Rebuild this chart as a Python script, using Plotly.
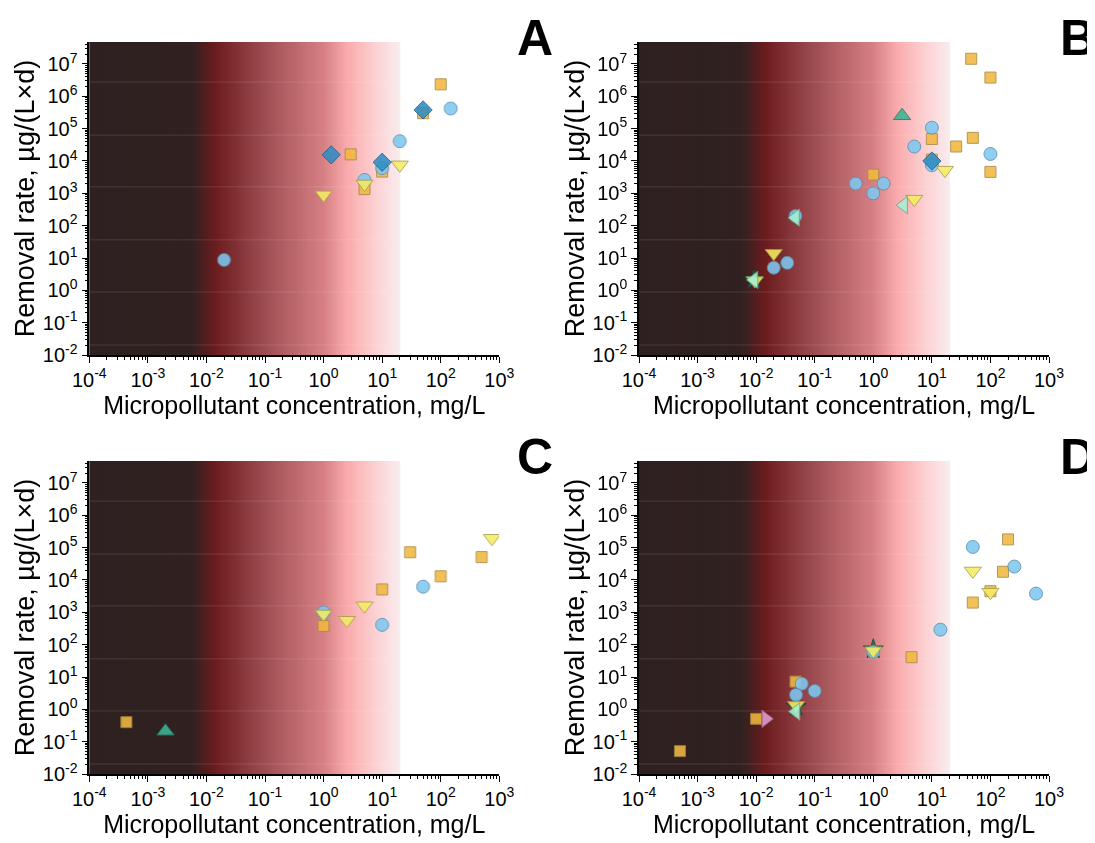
import plotly.graph_objects as go

# ---------------- data ----------------
# Panel A
A_circle_x = [148, 20, 5, 10, 0.02]
A_circle_y = [4.2e5, 4.1e4, 2.6e3, 6.0e3, 8.7]
A_square_x = [100, 50, 2.9, 10, 5]
A_square_y = [2.35e6, 3.0e5, 1.6e4, 4.7e3, 1.35e3]
A_tri_x = [20, 5, 1]
A_tri_y = [7.6e3, 1.95e3, 900]
A_diamond_x = [50, 1.35, 10]
A_diamond_y = [3.8e5, 1.55e4, 9.1e3]

# Panel B
B_circle_x = [10, 5, 100, 10, 0.5, 1.5, 1, 0.047, 0.02, 0.034]
B_circle_y = [1.07e5, 2.8e4, 1.65e4, 7.4e3, 2.0e3, 2.0e3, 1.0e3, 200, 5.0, 7.1]
B_square_x = [47, 100, 10, 50, 26, 10, 100, 1]
B_square_y = [1.45e7, 3.8e6, 4.8e4, 5.2e4, 2.8e4, 1.1e4, 4.6e3, 3.8e3]
B_tri_x = [16.7, 5, 0.02, 0.0095]
B_tri_y = [5.2e3, 660, 14, 2.0]
B_uptri_x = [3.1]
B_uptri_y = [2.5e5]
B_diamond_x = [10]
B_diamond_y = [1.0e4]
B_lefttri_x = [3.3, 0.047, 0.0092]
B_lefttri_y = [430, 177, 2.1]
B_star_x = [0.0092]
B_star_y = [2.1]

# Panel C
C_circle_x = [50, 1, 10]
C_circle_y = [6.2e3, 1.0e3, 410]
C_square_x = [30, 500, 100, 10, 1, 4.3e-4]
C_square_y = [7.2e4, 5.1e4, 1.3e4, 5.1e3, 380, 0.40]
C_tri_x = [750, 5, 1, 2.5]
C_tri_y = [1.95e5, 1.6e3, 890, 570]
C_uptri_x = [2.0e-3]
C_uptri_y = [0.21]

# Panel D
D_circle_x = [50, 256, 600, 14, 1, 0.06, 0.1, 0.048]
D_circle_y = [1.05e5, 2.6e4, 3.8e3, 290, 60, 6.2, 3.7, 2.8]
D_square_x = [200, 164, 100, 50, 4.5, 0.047, 0.01, 5e-4]
D_square_y = [1.8e5, 1.8e4, 4.5e3, 2.0e3, 41, 7.2, 0.51, 0.051]
D_tri_x = [50, 100, 1, 0.048]
D_tri_y = [1.9e4, 4.2e3, 65, 1.33]
D_lefttri_x = [0.048]
D_lefttri_y = [0.85]
D_righttri_x = [0.0146]
D_righttri_y = [0.51]
D_star_x = [1, 0.048]
D_star_y = [72, 1.2]

X_EXP = list(range(-4, 4))
Y_EXP = list(range(-2, 8))
X_TICK_LABELS = [f"10<sup>{k}</sup>" for k in X_EXP]
Y_TICK_LABELS = [f"10<sup>{k}</sup>" for k in Y_EXP]
PANEL_LETTERS = ["A", "B", "C", "D"]
X_TITLE = "Micropollutant concentration, mg/L"
Y_TITLE = "Removal rate, µg/(L×d)"

# ---------------- styles ----------------
FONT = "Liberation Sans, Arial, sans-serif"
W, H = 1087, 835          # page has an 8px body margin
XR = [-4, 3]
YR = [-2, 7.68]
GRAD_END_LOG = 1.31
GRAD_STOPS = [(-4.0, (47, 33, 33)), (-2.25, (49, 33, 33)), (-1.85, (108, 28, 30)),
              (-1.0, (158, 78, 82)), (0.0, (214, 128, 132)), (0.4, (250, 170, 172)),
              (0.9, (252, 210, 212)), (1.31, (250, 236, 238))]
FAINT_LINES_LOG = [6.44, 4.80, 3.20, 1.56, -0.05, -1.69]

STYLE = {
    "circle": dict(symbol="circle", size=13, color="#7ec8f0", line="#5b8fb2"),
    "square": dict(symbol="square", size=11, color="#f2b840", line="#a88a44"),
    "tri": dict(symbol="triangle-down", size=15, color="#f4ec62", line="#a8a050"),
    "uptri": dict(symbol="triangle-up", size=15, color="#3cb493", line="#2a7a66"),
    "diamond": dict(symbol="diamond", size=14, color="#2f8cc4", line="#1d5f88"),
    "lefttri": dict(symbol="triangle-left", size=15, color="#a8f0d0", line="#6aa890"),
    "righttri": dict(symbol="triangle-right", size=15, color="#e0a0d0", line="#a07090"),
    "star": dict(symbol="star", size=15, color="#1e6b4a", line="#154a34"),
}


def xdom(left_px, right_px):
    return [(left_px - 8) / W, (right_px - 8) / W]


def ydom(top_px, bottom_px):
    return [1 - (bottom_px - 8) / H, 1 - (top_px - 8) / H]


PANELS = [
    dict(xd=xdom(89.3, 499.3), yd=ydom(42, 355), series=[
        ("square", A_square_x, A_square_y), ("circle", A_circle_x, A_circle_y),
        ("tri", A_tri_x, A_tri_y), ("diamond", A_diamond_x, A_diamond_y)]),
    dict(xd=xdom(639, 1049), yd=ydom(42, 355), series=[
        ("star", B_star_x, B_star_y), ("square", B_square_x, B_square_y),
        ("circle", B_circle_x, B_circle_y), ("tri", B_tri_x, B_tri_y),
        ("uptri", B_uptri_x, B_uptri_y), ("diamond", B_diamond_x, B_diamond_y),
        ("lefttri", B_lefttri_x, B_lefttri_y)]),
    dict(xd=xdom(89.3, 499.3), yd=ydom(461, 774), series=[
        ("square", C_square_x, C_square_y), ("circle", C_circle_x, C_circle_y),
        ("tri", C_tri_x, C_tri_y), ("uptri", C_uptri_x, C_uptri_y)]),
    dict(xd=xdom(639, 1049), yd=ydom(461, 774), series=[
        ("star", D_star_x, D_star_y), ("square", D_square_x, D_square_y),
        ("circle", D_circle_x, D_circle_y), ("tri", D_tri_x, D_tri_y),
        ("lefttri", D_lefttri_x, D_lefttri_y), ("righttri", D_righttri_x, D_righttri_y)]),
]
LETTER_PX = [(535, 38), (1078, 38), (535, 457), (1078, 457)]


def interp_color(lx):
    for (a, ca), (b, cb) in zip(GRAD_STOPS[:-1], GRAD_STOPS[1:]):
        if a <= lx <= b:
            t = (lx - a) / (b - a)
            return "rgb(%d,%d,%d)" % tuple(round(ca[i] + (cb[i] - ca[i]) * t) for i in range(3))
    return "rgb(%d,%d,%d)" % GRAD_STOPS[-1][1]


minor_x = [m * 10 ** k for k in range(-4, 3) for m in range(2, 10)]
minor_y = [m * 10 ** k for k in range(-2, 8) for m in range(2, 10) if m * 10 ** k < 10 ** 7.68]

fig = go.Figure()
shapes = []
annotations = []
layout = {}

N_SLICES = 150
grad_frac_end = (GRAD_END_LOG - XR[0]) / (XR[1] - XR[0])

for i, p in enumerate(PANELS):
    sfx = "" if i == 0 else str(i + 1)
    xa, ya = "x" + sfx, "y" + sfx
    for kind, xs, ys in p["series"]:
        st = STYLE[kind]
        fig.add_trace(go.Scatter(
            x=xs, y=ys, mode="markers", xaxis=xa, yaxis=ya, showlegend=False,
            opacity=0.88,
            marker=dict(symbol=st["symbol"], size=st["size"], color=st["color"],
                        line=dict(color=st["line"], width=1))))
    # gradient background
    w = grad_frac_end / N_SLICES
    for s in range(N_SLICES):
        f0 = s * w
        lx = XR[0] + (f0 + w / 2) * (XR[1] - XR[0])
        shapes.append(dict(type="rect", xref=xa + " domain", yref=ya + " domain",
                           x0=f0, x1=min(f0 + w * 1.6, grad_frac_end), y0=0, y1=1,
                           fillcolor=interp_color(lx), line=dict(width=0), layer="below"))
    for ly in FAINT_LINES_LOG:
        fy = (ly - YR[0]) / (YR[1] - YR[0])
        shapes.append(dict(type="line", xref=xa + " domain", yref=ya + " domain",
                           x0=0, x1=grad_frac_end, y0=fy, y1=fy,
                           line=dict(color="rgba(255,255,255,0.12)", width=1), layer="below"))
    common = dict(showgrid=False, zeroline=False, showline=True, linecolor="black", linewidth=1.5,
                  ticks="outside", ticklen=6, tickwidth=1.2, tickcolor="black",
                  tickfont=dict(size=20, color="black", family=FONT), automargin=False, type="log")
    layout["xaxis" + sfx] = dict(
        common, domain=p["xd"], anchor=ya, range=XR,
        tickmode="array", tickvals=[10 ** k for k in X_EXP], ticktext=X_TICK_LABELS,
        minor=dict(tickmode="array", tickvals=minor_x, ticks="outside", ticklen=3,
                   tickcolor="black", tickwidth=1, showgrid=False),
        title=dict(text=X_TITLE, font=dict(size=25, color="black", family=FONT), standoff=4))
    layout["yaxis" + sfx] = dict(
        common, domain=p["yd"], anchor=xa, range=YR,
        tickmode="array", tickvals=[10 ** k for k in Y_EXP], ticktext=Y_TICK_LABELS,
        minor=dict(tickmode="array", tickvals=minor_y, ticks="outside", ticklen=3,
                   tickcolor="black", tickwidth=1, showgrid=False),
        title=dict(text=Y_TITLE, font=dict(size=27, color="black", family=FONT), standoff=0))
    px_, py_ = LETTER_PX[i]
    annotations.append(dict(text="<b>%s</b>" % PANEL_LETTERS[i],
                            x=(px_ - 8) / W, y=1 - (py_ - 8) / H, xref="paper", yref="paper",
                            showarrow=False, font=dict(size=50, color="black", family=FONT),
                            xanchor="center", yanchor="middle"))

fig.update_layout(
    width=W, height=H, margin=dict(l=0, r=0, t=0, b=0),
    paper_bgcolor="white", plot_bgcolor="white",
    font=dict(family=FONT, color="black"),
    shapes=shapes, annotations=annotations, **layout)

fig.write_html("out.html")
